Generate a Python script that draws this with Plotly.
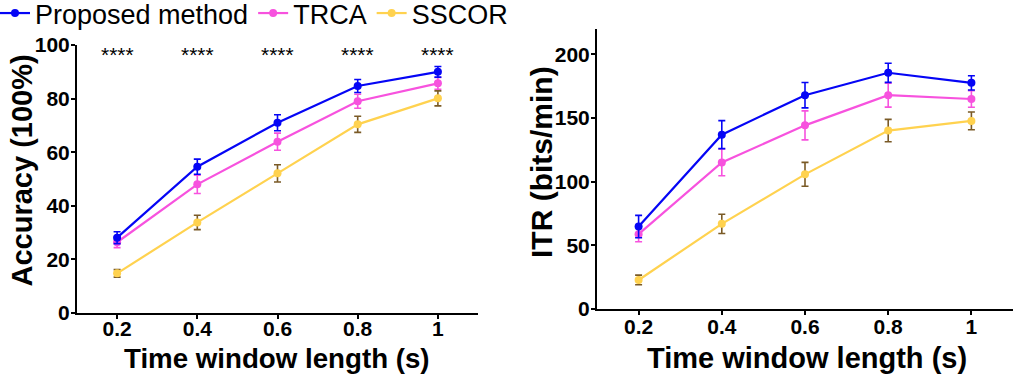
import plotly.graph_objects as go

# ---------------- data ----------------
time_windows = [0.2, 0.4, 0.6, 0.8, 1.0]
x_tick_labels = ["0.2", "0.4", "0.6", "0.8", "1"]
methods = ["Proposed method", "TRCA", "SSCOR"]

acc_proposed = [28.1, 54.6, 71.0, 84.7, 90.0]
acc_proposed_err = [2.2, 2.8, 3.0, 2.4, 2.0]
acc_trca = [26.4, 48.0, 63.9, 79.0, 85.7]
acc_trca_err = [2.0, 3.4, 3.2, 2.6, 2.2]
acc_sscor = [14.8, 33.8, 52.1, 70.4, 80.1]
acc_sscor_err = [1.4, 2.7, 3.2, 3.0, 2.8]

itr_proposed = [64.8, 137.0, 168.0, 185.6, 177.7]
itr_proposed_err = [8.8, 11.0, 10.0, 7.5, 5.6]
itr_trca = [58.8, 115.2, 144.3, 168.0, 165.0]
itr_trca_err = [6.0, 10.5, 11.4, 9.4, 6.5]
itr_sscor = [22.8, 66.9, 105.8, 140.2, 147.8]
itr_sscor_err = [3.8, 7.6, 9.4, 8.8, 7.0]

significance = ["****", "****", "****", "****", "****"]
sig_level = 96.5

acc_ticks = [0, 20, 40, 60, 80, 100]
itr_ticks = [0, 50, 100, 150, 200]

# ---------------- style ----------------
W, H = 1014, 381
OFF = 0  # body margin removed by post_script
FONT = "Liberation Sans, Arial, Helvetica, sans-serif"
colors = {"Proposed method": "#0505F5", "TRCA": "#F752DE", "SSCOR": "#FFD24F"}
err_colors = {"Proposed method": "#0505F5", "TRCA": "#F752DE", "SSCOR": "#7A5A26"}


def px_x(p):
    return (p - OFF) / W


def px_y(p):
    return 1 - (p - OFF) / H


fig = go.Figure()

series = [
    ("SSCOR", acc_sscor, acc_sscor_err, itr_sscor, itr_sscor_err, 3),
    ("TRCA", acc_trca, acc_trca_err, itr_trca, itr_trca_err, 2),
    ("Proposed method", acc_proposed, acc_proposed_err, itr_proposed, itr_proposed_err, 1),
]

for name, acc, acc_e, itr, itr_e, rank in series:
    for (vals, errs, xa, ya, show) in [(acc, acc_e, "x", "y", True), (itr, itr_e, "x2", "y2", False)]:
        fig.add_trace(go.Scatter(
            x=time_windows, y=vals, name=name, mode="lines+markers",
            xaxis=xa, yaxis=ya, showlegend=show, legendrank=rank,
            line=dict(color=colors[name], width=2.2),
            marker=dict(color=colors[name], size=8),
            error_y=dict(type="data", array=errs, visible=True,
                         color=err_colors[name], thickness=1.6, width=3.5),
        ))

axis_common = dict(
    showline=True, linecolor="black", linewidth=2, mirror=False,
    ticks="outside", ticklen=4, tickwidth=2, tickcolor="black",
    showgrid=False, zeroline=False, automargin=False,
    tickfont=dict(family=FONT, size=21, color="black", weight="bold"),
)

fig.update_layout(
    width=W, height=H,
    margin=dict(l=0, r=0, t=0, b=0, autoexpand=False),
    paper_bgcolor="white", plot_bgcolor="white",
    font=dict(family=FONT, color="black"),
    xaxis=dict(domain=[px_x(77), px_x(478)], range=[0.1, 1.1], ticklabelstandoff=-8,
               tickvals=time_windows, ticktext=x_tick_labels, anchor="y", **axis_common),
    yaxis=dict(domain=[px_y(313), px_y(45)], range=[0, 100], ticklabelstandoff=-3,
               tickvals=acc_ticks, anchor="x", **axis_common),
    xaxis2=dict(domain=[px_x(597), px_x(1013)], range=[0.1, 1.1], ticklabelstandoff=-6,
                tickvals=time_windows, ticktext=x_tick_labels, anchor="y2", **axis_common),
    yaxis2=dict(domain=[px_y(309), px_y(29)], range=[0, 220], ticklabelstandoff=-3,
                tickvals=itr_ticks, anchor="x2", **axis_common),
    legend=dict(orientation="h", x=px_x(-5), y=1 + 11 / H, xanchor="left", yanchor="top",
                font=dict(family=FONT, size=27, color="black"),
                bgcolor="rgba(0,0,0,0)", itemwidth=30, tracegroupgap=0),
    showlegend=True,
)

annotations = []
for xv, s in zip(time_windows, significance):
    annotations.append(dict(x=xv, y=sig_level, xref="x", yref="y", text=s, showarrow=False,
                            font=dict(family=FONT, size=21, color="black"), yanchor="middle"))

annotations += [
    dict(x=px_x(21.5), y=px_y(171), xref="paper", yref="paper", text="Accuracy (100%)",
         textangle=-90, showarrow=False, font=dict(family=FONT, size=29, color="black", weight="bold"),
         xanchor="center", yanchor="middle"),
    dict(x=px_x(541), y=px_y(162), xref="paper", yref="paper", text="ITR (bits/min)",
         textangle=-90, showarrow=False, font=dict(family=FONT, size=30, color="black", weight="bold"),
         xanchor="center", yanchor="middle"),
    dict(x=px_x(277), y=px_y(358), xref="paper", yref="paper", text="Time window length (s)",
         showarrow=False, font=dict(family=FONT, size=27.7, color="black", weight="bold"),
         xanchor="center", yanchor="middle"),
    dict(x=px_x(807), y=px_y(357.5), xref="paper", yref="paper", text="Time window length (s)",
         showarrow=False, font=dict(family=FONT, size=29, color="black", weight="bold"),
         xanchor="center", yanchor="middle"),
]
fig.update_layout(annotations=annotations)

fig.write_html("out.html", config={"displayModeBar": False},
               post_script="document.body.style.margin='0';document.body.style.overflow='hidden';")
